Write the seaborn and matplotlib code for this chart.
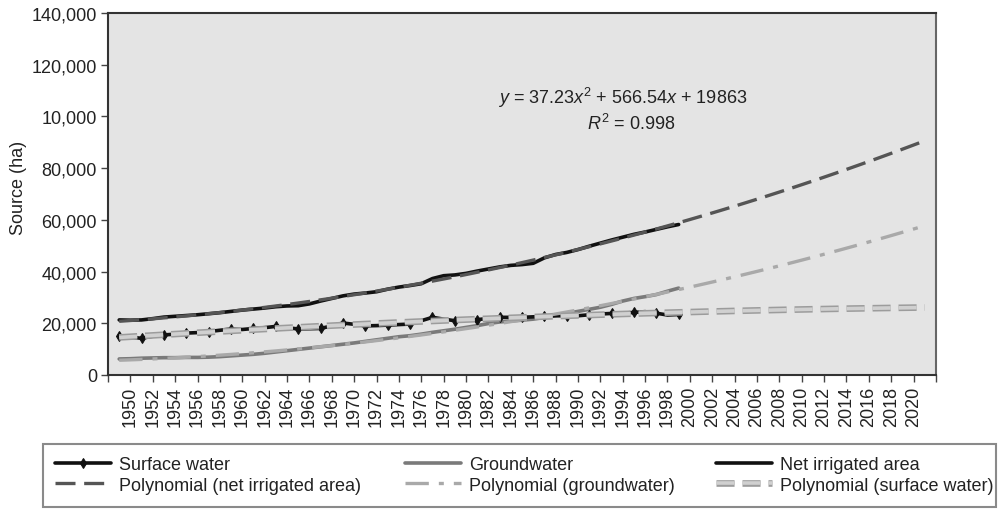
import numpy as np
import matplotlib
matplotlib.use("Agg")
import matplotlib.pyplot as plt
import matplotlib.patheffects as pe
from matplotlib.patches import Rectangle
import seaborn as sns

# Observed years and the three source series (ha)
years = list(range(1949, 2000))
net_irrigated = [21300, 21200, 21300, 21800, 22400, 22700, 23000, 23300, 23700, 24100,
                 24600, 25100, 25500, 25900, 26400, 26700, 26800, 27500, 28600, 29600,
                 30600, 31300, 31700, 32200, 33200, 34000, 34600, 35300, 37300, 38400,
                 38700, 39300, 40200, 41000, 41800, 42400, 42700, 43200, 45300, 46600,
                 47400, 48500, 49800, 51000, 52200, 53300, 54400, 55300, 56300, 57300,
                 58200]
groundwater = [6200, 6300, 6500, 6600, 6700, 6700, 6800, 6800, 6900, 7100,
               7400, 7700, 8000, 8400, 8900, 9400, 9900, 10400, 10900, 11400,
               11900, 12400, 13000, 13600, 14200, 14800, 15200, 15800, 16500, 17100,
               17700, 18400, 19100, 19900, 20500, 20900, 21200, 21600, 22300, 23000,
               23800, 24600, 25400, 26200, 27300, 28600, 29600, 30300, 31100, 32400,
               33600]
surface_water = [15000, 14600, 14200, 15000, 15500, 15800, 16200, 16400, 16800, 17300,
                 17800, 17600, 18000, 18300, 18800, 18300, 17800, 17900, 18000, 19000,
                 20100, 19600, 19000, 19100, 19300, 19500, 19700, 21000, 22300, 21600,
                 21000, 21200, 21400, 21900, 22300, 22300, 22300, 22500, 22700, 22900,
                 22900, 22900, 23300, 23600, 23800, 23900, 24200, 24500, 23900, 23200,
                 23400]

trend_start, trend_end = 1949, 2021
tick_years = list(range(1948, 2023, 2))
tick_labels = ["" if (y < 1950 or y > 2020) else str(y) for y in tick_years]
y_ticks = [0, 20000, 40000, 60000, 80000, 100000, 120000, 140000]
y_tick_labels = ["0", "20,000", "40,000", "60,000", "80,000", "10,000", "120,000", "140,000"]

sns.set_theme(style="ticks")
plt.rcParams["font.family"] = ["Liberation Sans", "DejaVu Sans"]
plt.rcParams["mathtext.fontset"] = "custom"
plt.rcParams["mathtext.rm"] = "Liberation Sans"
plt.rcParams["mathtext.it"] = "Liberation Sans:italic"

fig = plt.figure(figsize=(10.03, 5.10), dpi=100)
ax = fig.add_axes([108 / 1003, 1 - 376 / 510, 828 / 1003, 362 / 510])
ax.set_facecolor("#e4e4e4")

# polynomial trendlines (order 2), fitted by seaborn over 1949-2021
ax.set_xlim(trend_start, trend_end)
sns.regplot(x=np.array(years), y=np.array(net_irrigated), order=2, ci=None,
            scatter=False, truncate=False, ax=ax,
            line_kws=dict(color="#555555", lw=2.4, dashes=(6, 2.6), zorder=4))
sns.regplot(x=np.array(years), y=np.array(groundwater), order=2, ci=None,
            scatter=False, truncate=False, ax=ax,
            line_kws=dict(color="#a9a9a9", lw=2.4, dashes=(7, 3, 1.5, 3), zorder=4))
sns.regplot(x=np.array(years), y=np.array(surface_water), order=2, ci=None,
            scatter=False, truncate=False, ax=ax,
            line_kws=dict(color="#d0d0d0", lw=2.6, dashes=(5, 2.2), zorder=4,
                          path_effects=[pe.Stroke(linewidth=4.8, foreground="#9c9c9c"),
                                        pe.Normal()]))
trend_lines = ax.get_lines()[-3:]

# observed series
sns.lineplot(x=years, y=groundwater, ax=ax, color="#7a7a7a", lw=2.6, zorder=3)
sns.lineplot(x=years, y=net_irrigated, ax=ax, color="#111111", lw=2.6, zorder=3)
sns.lineplot(x=years, y=surface_water, ax=ax, color="#111111", lw=2.6, zorder=3,
             marker="d", markersize=5.5, markevery=2, markeredgecolor="#111111")
gw_line, net_line, sw_line = ax.get_lines()[-3:]

ax.set_xlim(1948, 2022)
ax.set_ylim(0, 140000)
ax.set_xticks(tick_years)
ax.set_xticklabels(tick_labels, rotation=90, fontsize=13, color="#222222")
ax.set_yticks(y_ticks)
ax.set_yticklabels(y_tick_labels, fontsize=13, color="#222222")
ax.tick_params(axis="both", direction="out", length=5, width=1, color="#444444", pad=3)
ax.set_ylabel("Source (ha)", fontsize=13, color="#222222")
ax.yaxis.set_label_coords(-0.098, 0.52)
ax.set_xlabel("")
for side in ["left", "bottom", "top"]:
    ax.spines[side].set_color("#333333")
    ax.spines[side].set_linewidth(1.5)
ax.spines["right"].set_color("#666666")
ax.spines["right"].set_linewidth(1.5)
ax.spines["top"].set_visible(True)
ax.spines["right"].set_visible(True)

ax.text(0.621, 0.768, r"$y$ = 37.23$x^2$ + 566.54$x$ + 19863", transform=ax.transAxes,
        ha="center", va="center", fontsize=13, color="#222222")
ax.text(0.632, 0.696, r"$R^2$ = 0.998", transform=ax.transAxes,
        ha="center", va="center", fontsize=13, color="#222222")

# legend: three columns placed like the original, inside one box
legend_cols = [
    (55, [(sw_line, "Surface water"), (trend_lines[0], "Polynomial (net irrigated area)")]),
    (405, [(gw_line, "Groundwater"), (trend_lines[1], "Polynomial (groundwater)")]),
    (716, [(net_line, "Net irrigated area"), (trend_lines[2], "Polynomial (surface water)")]),
]
for x0, entries in legend_cols:
    leg = fig.legend([e[0] for e in entries], [e[1] for e in entries],
                     loc="upper left", bbox_to_anchor=(x0 / 1003, 1 - 457 / 510),
                     frameon=False, fontsize=13, borderpad=0, borderaxespad=0,
                     handlelength=3.1, handletextpad=0.45, labelspacing=0.2)
    for t in leg.get_texts():
        t.set_color("#222222")
fig.add_artist(Rectangle((43 / 1003, 2 / 510), 953 / 1003, 63 / 510,
                         transform=fig.transFigure, fill=False,
                         edgecolor="#8a8a8a", lw=1.5))

fig.savefig("out.png", dpi=100)
